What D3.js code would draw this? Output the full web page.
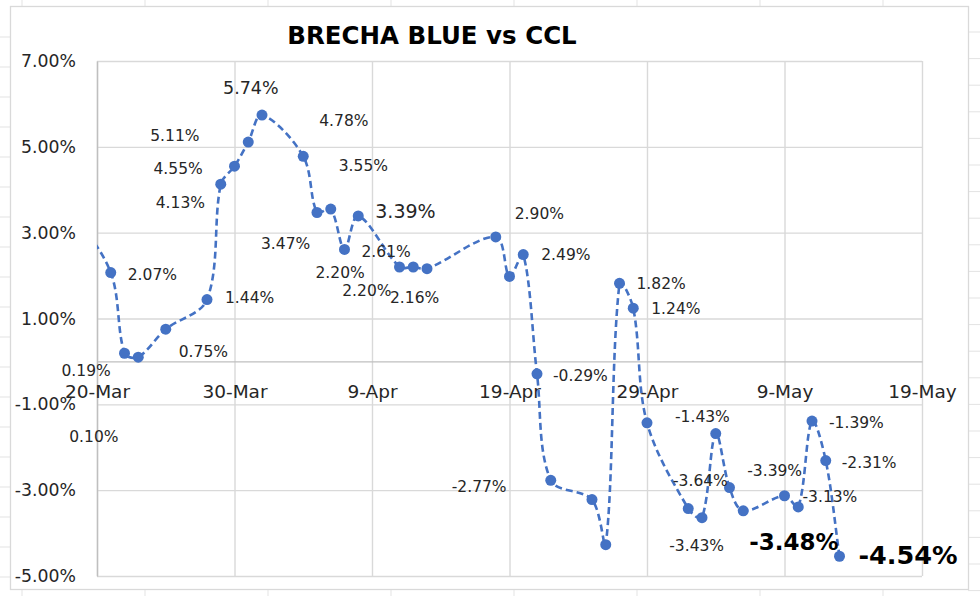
<!DOCTYPE html>
<html>
<head>
<meta charset="utf-8">
<script src="https://cdn.jsdelivr.net/npm/d3@7"></script>
<style>
  body { margin: 0; background: #fff; }
  svg { display: block; }
  text { font-family: "DejaVu Sans", sans-serif; fill: #262626; }
</style>
</head>
<body>
<script>
// brecha blue vs ccl, daily, 2022
const dates = [
  "2022-03-18", "2022-03-21", "2022-03-22", "2022-03-23", "2022-03-25",
  "2022-03-28", "2022-03-29", "2022-03-30", "2022-03-31", "2022-04-01",
  "2022-04-04", "2022-04-05", "2022-04-06", "2022-04-07", "2022-04-08",
  "2022-04-11", "2022-04-12", "2022-04-13", "2022-04-18", "2022-04-19",
  "2022-04-20", "2022-04-21", "2022-04-22", "2022-04-25", "2022-04-26",
  "2022-04-27", "2022-04-28", "2022-04-29", "2022-05-02", "2022-05-03",
  "2022-05-04", "2022-05-05", "2022-05-06", "2022-05-09", "2022-05-10",
  "2022-05-11", "2022-05-12", "2022-05-13"
];
const values = [
  3.60, 2.07, 0.19, 0.10, 0.75,
  1.44, 4.13, 4.55, 5.11, 5.74,
  4.78, 3.47, 3.55, 2.61, 3.39,
  2.20, 2.20, 2.16, 2.90, 1.98,
  2.49, -0.29, -2.77, -3.22, -4.27,
  1.82, 1.24, -1.43, -3.43, -3.64,
  -1.68, -2.94, -3.48, -3.13, -3.39,
  -1.39, -2.31, -4.54
];
const xTicks = ["2022-03-20", "2022-03-30", "2022-04-09", "2022-04-19", "2022-04-29", "2022-05-09", "2022-05-19"];
const yTicks = [-5, -3, -1, 1, 3, 5, 7];

// which points carry a data label, and where it sits (px offset from the point)
const labelLayout = [
  { i: 1,  dx: 17,  dy: 2 },
  { i: 2,  dx: -63, dy: 17 },
  { i: 3,  dx: -69, dy: 79 },
  { i: 4,  dx: 13,  dy: 22 },
  { i: 5,  dx: 18,  dy: -2 },
  { i: 6,  dx: -65, dy: 18 },
  { i: 7,  dx: -81, dy: 2 },
  { i: 8,  dx: -98, dy: -7 },
  { i: 9,  dx: -39, dy: -27, size: 17.5 },
  { i: 10, dx: 16,  dy: -36 },
  { i: 11, dx: -56, dy: 31 },
  { i: 12, dx: 8,   dy: -44 },
  { i: 13, dx: 17,  dy: 2 },
  { i: 14, dx: 17,  dy: -5, size: 19 },
  { i: 15, dx: -84, dy: 5 },
  { i: 16, dx: -71, dy: 23 },
  { i: 17, dx: -37, dy: 29 },
  { i: 18, dx: 19,  dy: -24 },
  { i: 20, dx: 18,  dy: 0 },
  { i: 21, dx: 16,  dy: 2 },
  { i: 22, dx: -99, dy: 6 },
  { i: 25, dx: 17,  dy: 0 },
  { i: 26, dx: 18,  dy: 0 },
  { i: 27, dx: 28,  dy: -6 },
  { i: 28, dx: -19, dy: 37 },
  { i: 29, dx: -29, dy: -37 },
  { i: 32, dx: 6,   dy: 31, size: 23, bold: true },
  { i: 33, dx: 18,  dy: 1 },
  { i: 34, dx: -51, dy: -36 },
  { i: 35, dx: 17,  dy: 1 },
  { i: 36, dx: 16,  dy: 2 },
  { i: 37, dx: 19,  dy: -1, size: 25.5, bold: true }
];

const W = 980, H = 596;
const margin = { top: 61, right: 58, bottom: 20, left: 97 },
      width = 922 - margin.left,
      height = 576 - margin.top;

const parse = d3.utcParse("%Y-%m-%d");
const data = dates.map((d, i) => ({ date: parse(d), value: values[i] }));

const svg = d3.select("body").append("svg")
    .attr("width", W)
    .attr("height", H);

// spreadsheet cells showing around the chart
const sheet = svg.append("g").attr("stroke", "#e3e3e3").attr("stroke-width", 1);
d3.range(22, W, 123).forEach(x => {
  sheet.append("line").attr("x1", x).attr("x2", x).attr("y1", 0).attr("y2", H);
});
d3.range(37, H, 30).forEach(y => {
  sheet.append("line").attr("x1", 0).attr("x2", 12).attr("y1", y).attr("y2", y);
});
d3.range(32, H, 26.6).forEach(y => {
  sheet.append("line").attr("x1", 968).attr("x2", W).attr("y1", y).attr("y2", y);
});

svg.append("rect")
    .attr("x", 10.5).attr("y", 6.5)
    .attr("width", 958).attr("height", 583)
    .attr("fill", "#fff")
    .attr("stroke", "#d9d9d9")
    .attr("stroke-width", 1.3);

svg.append("text")
    .attr("x", 432)
    .attr("y", 44)
    .attr("text-anchor", "middle")
    .style("font-weight", "bold")
    .style("font-size", "24.5px")
    .style("fill", "#000")
    .text("BRECHA BLUE vs CCL");

const g = svg.append("g")
    .attr("transform", `translate(${margin.left},${margin.top})`);

const x = d3.scaleUtc()
    .domain([parse(xTicks[0]), parse(xTicks[xTicks.length - 1])])
    .range([0, width]);

const y = d3.scaleLinear()
    .domain([-5, 7])
    .range([height, 0]);

// gridlines
g.append("g")
    .attr("class", "grid")
    .call(d3.axisLeft(y).tickValues(yTicks).tickSize(-width).tickFormat(""))
    .call(a => a.select(".domain").remove())
    .call(a => a.selectAll("line").attr("stroke", "#d9d9d9").attr("stroke-width", 1.4));

g.append("g")
    .attr("class", "grid")
    .call(d3.axisTop(x).tickValues(xTicks.map(parse)).tickSize(-height).tickFormat(""))
    .call(a => a.select(".domain").remove())
    .call(a => a.selectAll("line").attr("stroke", "#d9d9d9").attr("stroke-width", 1.4));

// y axis
g.append("g")
    .call(d3.axisLeft(y).tickValues(yTicks).tickSize(0).tickPadding(21)
      .tickFormat(d => d.toFixed(2) + "%"))
    .call(a => a.select(".domain").attr("stroke", "#bfbfbf").attr("stroke-width", 1.4))
    .call(a => a.selectAll("text")
      .style("font-size", "17.3px")
      .style("font-family", "DejaVu Sans, sans-serif")
      .attr("fill", "#262626"));

// x axis sits on 0%
g.append("g")
    .attr("transform", `translate(0,${y(0)})`)
    .call(d3.axisBottom(x).tickValues(xTicks.map(parse)).tickSize(0).tickPadding(23)
      .tickFormat(d3.utcFormat("%-d-%b")))
    .call(a => a.select(".domain").attr("stroke", "#bfbfbf").attr("stroke-width", 1.4))
    .call(a => a.selectAll("text")
      .style("font-size", "18.5px")
      .style("font-family", "DejaVu Sans, sans-serif")
      .attr("fill", "#262626"));

g.append("clipPath").attr("id", "plot")
  .append("rect").attr("width", width).attr("height", height);

// excel-style smoothing: bezier handles scaled by neighbouring segment lengths
function smoothPath(pts) {
  const p = d3.path();
  const dist = (a, b) => Math.hypot(b[0] - a[0], b[1] - a[1]);
  p.moveTo(pts[0][0], pts[0][1]);
  for (let i = 0; i < pts.length - 1; i++) {
    const p0 = pts[i - 1] || pts[i], p1 = pts[i], p2 = pts[i + 1], p3 = pts[i + 2] || pts[i + 1];
    const d01 = dist(p0, p1), d12 = dist(p1, p2), d23 = dist(p2, p3);
    const t1 = d12 / (d01 + d12) / 3, t2 = d12 / (d12 + d23) / 3;
    p.bezierCurveTo(
      p1[0] + (p2[0] - p0[0]) * t1, p1[1] + (p2[1] - p0[1]) * t1,
      p2[0] - (p3[0] - p1[0]) * t2, p2[1] - (p3[1] - p1[1]) * t2,
      p2[0], p2[1]);
  }
  return p.toString();
}

g.append("path")
    .attr("clip-path", "url(#plot)")
    .attr("fill", "none")
    .attr("stroke", "#4472C4")
    .attr("stroke-width", 2.6)
    .attr("stroke-dasharray", "7,4")
    .attr("d", smoothPath(data.map(d => [x(d.date), y(d.value)])));

g.append("g")
    .attr("clip-path", "url(#plot)")
  .selectAll("circle")
    .data(data)
    .enter()
    .append("circle")
    .attr("cx", d => x(d.date))
    .attr("cy", d => y(d.value))
    .attr("r", 5.5)
    .attr("fill", "#4472C4");

g.append("g")
  .selectAll("text")
    .data(labelLayout)
    .enter()
    .append("text")
    .attr("x", d => x(data[d.i].date) + d.dx)
    .attr("y", d => y(data[d.i].value) + d.dy)
    .attr("dy", "0.36em")
    .style("font-size", d => (d.size || 15.5) + "px")
    .style("font-weight", d => d.bold ? "bold" : "normal")
    .style("fill", d => d.bold ? "#000" : "#262626")
    .text(d => data[d.i].value.toFixed(2) + "%");
</script>
</body>
</html>
